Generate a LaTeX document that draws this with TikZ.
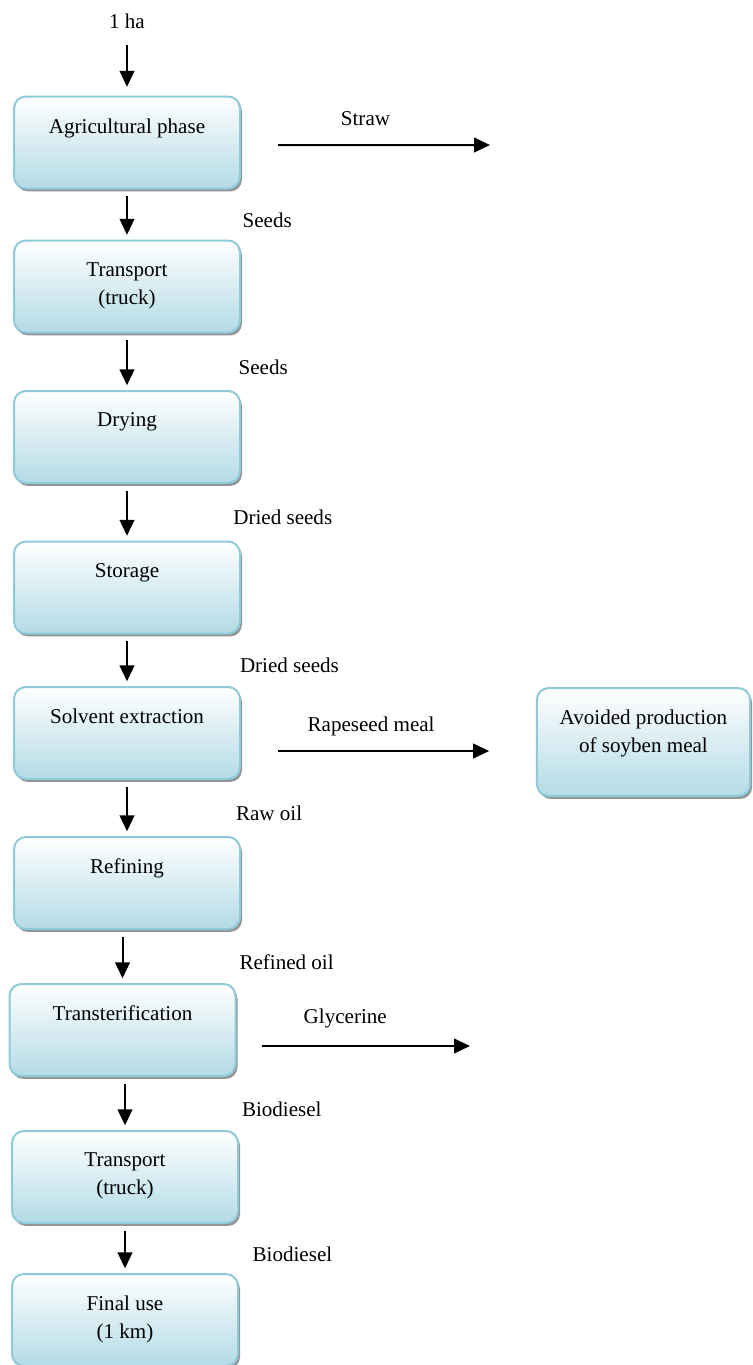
\documentclass[tikz,border=0pt]{standalone}
\usepackage{fontspec}
\setmainfont{Liberation Serif}
\usepackage{xcolor}
\usepackage{tikz}
\usetikzlibrary{arrows.meta,shadows,positioning,calc}
\definecolor{stageborder}{HTML}{8FCAD9}
\definecolor{stagebottom}{HTML}{B3DBE6}
\tikzset{
	stagebox/.style={draw=stageborder, line width=1.5pt, rounded corners=9pt,
		top color=white, bottom color=stagebottom,
		minimum width=169.5pt, minimum height=69pt, inner sep=0pt,
		drop shadow={shadow xshift=1.5pt, shadow yshift=-2.2pt, fill=gray!85, opacity=1}},
	stagetext/.style={anchor=north, align=center, inner sep=0pt, font=\fontsize{15.8}{21}\selectfont},
	flowlabel/.style={inner sep=0pt, font=\fontsize{15.8}{21}\selectfont},
	flow/.style={->, line width=1.5pt, shorten <=5pt, shorten >=3.5pt},
}
\newcommand{\drawStage}[5][]
{
	\node[stagebox,#1] (#2) at (#3,#4) {};
	\node[stagetext] (#2-t) at ([yshift=-17pt]#2.north) {#5};
}

\begin{document}
\begin{tikzpicture}[x=0.75pt,y=-0.75pt,>={Triangle[length=12pt,width=11pt]}]
\useasboundingbox (0,0) rectangle (753,1365);

\drawStage{agri}{127}{142.5}{Agricultural phase}
\drawStage{truckA}{127}{286.5}{Transport\\(truck)}
\drawStage{dry}{127}{437}{Drying}
\drawStage{store}{127}{587.5}{Storage}
\drawStage{extract}{127}{733}{Solvent extraction}
\drawStage{refine}{127}{883}{Refining}
\drawStage{transest}{122.5}{1030}{Transterification}
\drawStage{truckB}{125}{1177}{Transport\\(truck)}
\drawStage{final}{125}{1320}{Final use\\(1 km)}
\drawStage[minimum width=160pt, minimum height=81pt]{avoid}{643.5}{742}{Avoided production\\of soyben meal}

\node[flowlabel] (ha) at (127,21) {1 ha};
\draw[flow, shorten <=12pt, shorten >=6.5pt] (ha) -- (agri);

% main chain
\draw[flow] (truckA.north |- agri.south)   -- (truckA.north)   node[flowlabel, midway, right=86pt, yshift=-4pt] {Seeds};
\draw[flow] (dry.north |- truckA.south)    -- (dry.north)      node[flowlabel, midway, right=83pt, yshift=-4pt] {Seeds};
\draw[flow] (store.north |- dry.south)     -- (store.north)    node[flowlabel, midway, right=79pt, yshift=-4pt] {Dried seeds};
\draw[flow] (extract.north |- store.south) -- (extract.north)  node[flowlabel, midway, right=84pt, yshift=-4pt] {Dried seeds};
\draw[flow] (refine.north |- extract.south) -- (refine.north)  node[flowlabel, midway, right=81pt, yshift=-4pt] {Raw oil};
\draw[flow] (transest.north |- refine.south) -- (transest.north) node[flowlabel, midway, right=87pt, yshift=-4pt] {Refined oil};
\draw[flow] (truckB.north |- transest.south) -- (truckB.north) node[flowlabel, midway, right=87pt, yshift=-4pt] {Biodiesel};
\draw[flow] (final.north |- truckB.south)  -- (final.north)    node[flowlabel, midway, right=95pt, yshift=-4pt] {Biodiesel};

% co-products
\coordinate (straw-end) at (490,145);
\draw[flow, shorten <=27.75pt, shorten >=0pt] ([yshift=-1.9pt]agri.east) -- (straw-end)
	node[flowlabel, midway, anchor=base, yshift=15pt] {Straw};

\coordinate (meal-start) at ([yshift=-13.5pt]extract.east);
\draw[flow, shorten <=27.75pt, shorten >=35pt] (meal-start) -- (meal-start -| avoid.west)
	node[flowlabel, midway, anchor=base, yshift=15pt, xshift=-13pt] {Rapeseed meal};

\coordinate (glyc-end) at (470,1046);
\draw[flow, shorten <=18.75pt, shorten >=0pt] ([yshift=-12pt]transest.east) -- (glyc-end)
	node[flowlabel, midway, anchor=base, yshift=17pt, xshift=-6pt] {Glycerine};
\end{tikzpicture}
\end{document}
